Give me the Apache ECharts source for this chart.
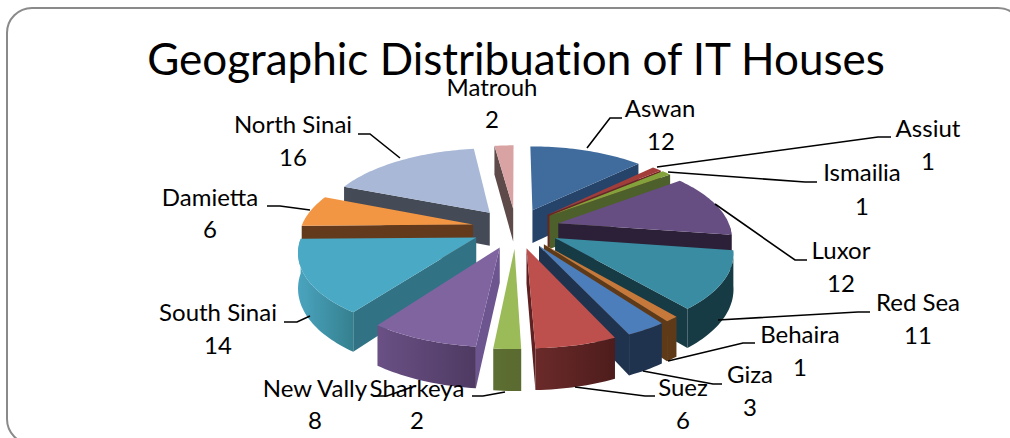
<!DOCTYPE html>
<html>
<head>
<meta charset="utf-8">
<style>
	html, body { margin: 0; padding: 0; background: #fff; }
	#chart { width: 1010px; height: 438px; }
	#chart text { font-variant-ligatures: none; }
</style>
<script src="https://cdn.jsdelivr.net/npm/echarts@6/dist/echarts.min.js"></script>
</head>
<body>
<div id="chart"></div>
<script>
var regions = ['Aswan', 'Assiut', 'Ismailia', 'Luxor', 'Red Sea', 'Behaira', 'Giza', 'Suez', 'Sharkeya', 'New Vally', 'South Sinai', 'Damietta', 'North Sinai', 'Matrouh'];
var houses = [12, 1, 1, 12, 11, 1, 3, 6, 2, 8, 14, 6, 16, 2];

var topColors = ['#3f6b9d', '#a33d3a', '#83a23c', '#674e82', '#3a8ca2', '#c6793a', '#4d7ebc', '#bd4f4c', '#9bbb59', '#8064a0', '#4aa9c4', '#f39643', '#a8b8d6', '#d9a3a3'];
var sideColors = ['#26436a', '#6b2422', '#4d5f2a', '#2b2037', '#173b44', '#5f3a18', '#1f334f', '#5e2020', '#5e6f33', '#6d5590', '#317285', '#643a1d', '#454a57', '#5d4a49'];
var rimLeft = ['#26436a', '#6b2422', '#4d5f2a', '#2b2037', '#173b44', '#5f3a18', '#1f334f', '#6b2a2a', '#5e6f33', '#6a5085', '#4aa4bf', '#643a1d', '#454a57', '#5d4a49'];
var rimRight = ['#26436a', '#6b2422', '#4d5f2a', '#2b2037', '#173b44', '#5f3a18', '#1f334f', '#4e1c1c', '#5a6a30', '#4e3a62', '#35808f', '#643a1d', '#454a57', '#5d4a49'];

// label layout: name centre, value centre, leader line
var labelLayout = {
	'Aswan': [[660, 107], [661, 140], [[587, 148], [610, 118], [622, 118]]],
	'Assiut': [[928, 127], [928, 160], [[657, 167], [878, 137], [891, 137]]],
	'Ismailia': [[862, 171], [862, 205], [[668, 172], [805, 182], [817, 182]]],
	'Luxor': [[841, 249], [841, 282], [[715, 204], [795, 260], [807, 260]]],
	'Red Sea': [[918, 301], [918, 334], [[718, 320], [858, 312], [870, 312]]],
	'Behaira': [[800, 333], [800, 366], [[668, 361], [743, 343], [755, 343]]],
	'Giza': [[750, 373], [750, 406], [[643, 371], [713, 384], [722, 384]]],
	'Suez': [[683, 386], [683, 419], [[575, 387], [645, 396], [655, 396]]],
	'Sharkeya': [[417, 387], [417, 419], [[505, 392], [483, 396], [472, 396]]],
	'New Vally': [[315, 387], [315, 419], [[412, 387], [387, 396], [373, 396]]],
	'South Sinai': [[218, 311], [218, 344], [[310, 316], [297, 322], [284, 322]]],
	'Damietta': [[210, 196], [210, 228], [[310, 210], [280, 206], [267, 206]]],
	'North Sinai': [[293, 123], [293, 156], [[400, 158], [370, 134], [358, 134]]],
	'Matrouh': [[492, 86], [492, 118], null]
};

var labelFont = 'Lato';

// pie geometry, angles run clockwise from the top
var cx = 516, cy = 228, radius = 172, explode = 44, tilt = 0.455, persp = 0.15, depth = 34;

var total = houses.reduce(function(a, b) { return a + b; }, 0);
var starts = [];
var sum = 0;
houses.forEach(function(v) {
	starts.push(sum / total * Math.PI * 2);
	sum += v;
});

function project(i, r, ang, down) {
	var a0 = starts[i];
	var a1 = a0 + houses[i] / total * Math.PI * 2;
	var mid = (a0 + a1) / 2;
	var px = explode * Math.sin(mid) + r * Math.sin(ang);
	var py = -(explode * Math.cos(mid) + r * Math.cos(ang));
	var s = 1 / (1 - persp * py / radius);
	return [cx + px * s, cy + tilt * py * s + (down ? depth * s : 0)];
}

function renderSlice(params, api) {
	var i = api.value(0);
	var a0 = starts[i];
	var a1 = a0 + houses[i] / total * Math.PI * 2;
	var steps = Math.max(4, Math.ceil((a1 - a0) * 40));
	var children = [];
	var arc = [];
	var k, a;

	function wall(ang) {
		children.push({
			type: 'polygon',
			shape: { points: [project(i, 0, ang, false), project(i, radius, ang, false), project(i, radius, ang, true), project(i, 0, ang, true)] },
			style: { fill: sideColors[i] }
		});
	}

	// only the cut faces turned to the viewer
	if (Math.sin(a0) < 0) wall(a0);
	if (Math.sin(a1) > 0.001) wall(a1);

	// round outer wall, front half only
	var rimTop = [], rimBottom = [];
	for (k = 0; k <= steps; k++) {
		a = a0 + (a1 - a0) * k / steps;
		if (Math.cos(a) <= 0) {
			rimTop.push(project(i, radius, a, false));
			rimBottom.unshift(project(i, radius, a, true));
		}
	}
	if (rimTop.length > 1) {
		children.push({
			type: 'polygon',
			shape: { points: rimTop.concat(rimBottom) },
			style: {
				fill: {
					type: 'linear', x: 0, y: 0, x2: 1, y2: 0,
					colorStops: [
						{ offset: 0, color: rimLeft[i] },
						{ offset: 1, color: rimRight[i] }
					]
				}
			}
		});
	}

	// top face
	arc.push(project(i, 0, a0, false));
	for (k = 0; k <= steps; k++) {
		arc.push(project(i, radius, a0 + (a1 - a0) * k / steps, false));
	}
	children.push({ type: 'polygon', shape: { points: arc }, style: { fill: topColors[i] } });

	return { type: 'group', children: children };
}

function renderLabel(params, api) {
	var name = regions[api.value(0)];
	var layout = labelLayout[name];
	var children = [];
	if (layout[2]) {
		children.push({
			type: 'polyline',
			shape: { points: layout[2] },
			style: { stroke: '#000', lineWidth: 1.6, fill: null }
		});
	}
	children.push({
		type: 'text',
		style: { x: layout[0][0], y: layout[0][1], text: name, fill: '#000', font: '24px ' + labelFont, textAlign: 'center', textVerticalAlign: 'middle' }
	});
	children.push({
		type: 'text',
		style: { x: layout[1][0], y: layout[1][1], text: String(houses[api.value(0)]), fill: '#000', font: '24px ' + labelFont, textAlign: 'center', textVerticalAlign: 'middle' }
	});
	return { type: 'group', children: children };
}

// back slices first so the front ones paint over them
var drawOrder = regions.map(function(r, i) { return i; }).sort(function(p, q) {
	var mp = starts[p] + houses[p] / total * Math.PI;
	var mq = starts[q] + houses[q] / total * Math.PI;
	return Math.cos(mq) - Math.cos(mp);
});

var option = {
	animation: false,
	backgroundColor: '#fff',
	title: {
		text: 'Geographic Distribuation of IT Houses',
		left: 511,
		top: 31,
		textAlign: 'center',
		textStyle: { color: '#000', fontFamily: labelFont, fontWeight: 'normal', fontSize: 44 }
	},
	graphic: [{
		type: 'rect',
		silent: true,
		shape: { x: 7, y: 8, width: 1016, height: 436, r: 25 },
		style: { fill: 'none', stroke: '#8a8a8a', lineWidth: 2 }
	}],
	series: [{
		type: 'custom',
		coordinateSystem: 'none',
		silent: true,
		z: 2,
		data: drawOrder.map(function(i) { return [i]; }),
		renderItem: renderSlice
	}, {
		type: 'custom',
		coordinateSystem: 'none',
		silent: true,
		z: 3,
		data: regions.map(function(r, i) { return [i]; }),
		renderItem: renderLabel
	}]
};

var chart = echarts.init(document.getElementById('chart'), null, { renderer: 'svg' });
chart.setOption(option);
</script>
</body>
</html>
